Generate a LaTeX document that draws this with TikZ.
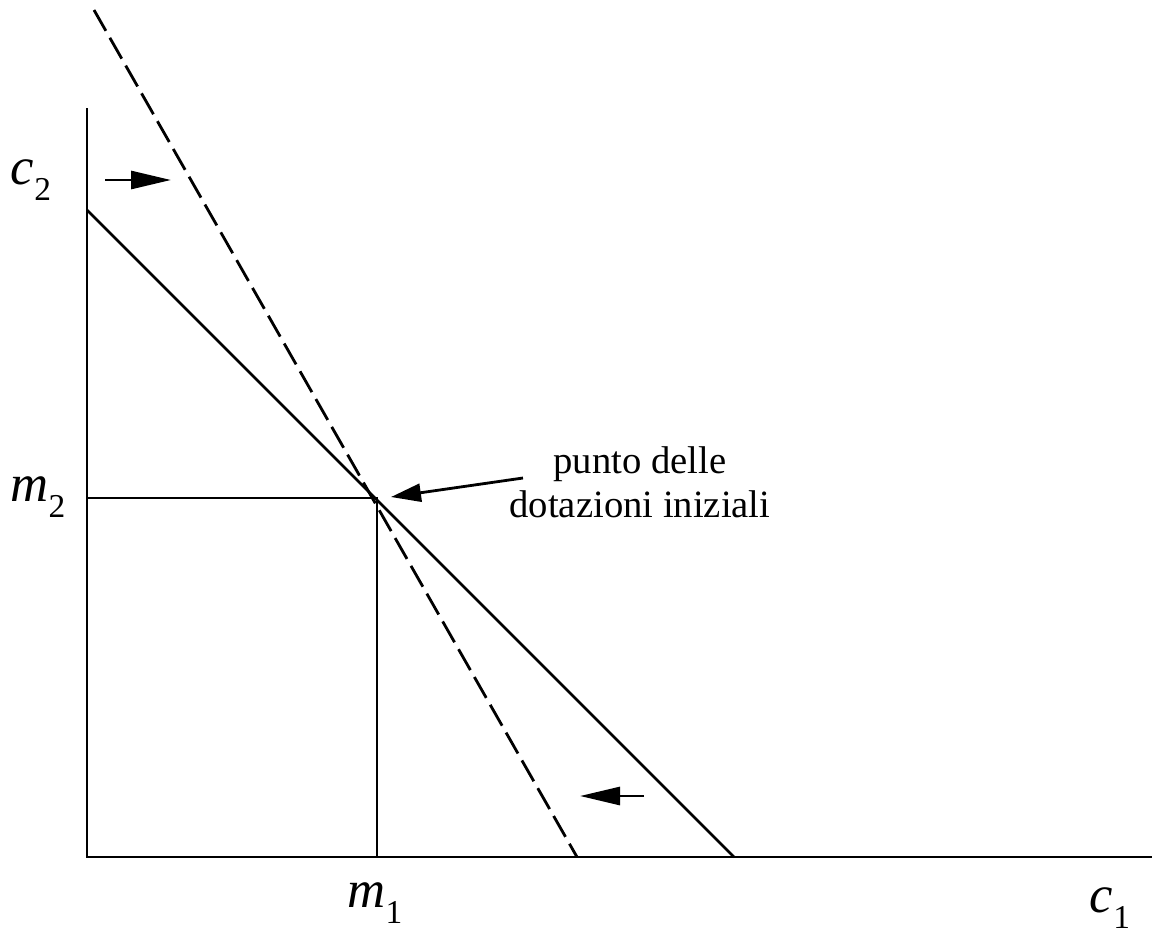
\documentclass[tikz,border=0pt]{standalone}
\usepackage{fontspec}
\setmainfont{Liberation Serif}
\usepackage{tikz}
\usetikzlibrary{arrows.meta}

\newcommand{\axlab}[2]{\textit{#1}\raisebox{-9pt}{\fontsize{19}{21}\selectfont #2}}

\begin{document}
\begin{tikzpicture}[
  x=0.02cm, y=-0.02cm,
  axis/.style={line width=1.6pt},
  budget/.style={line width=1.6pt},
  shifted/.style={line width=1.6pt, dash pattern=on 0.48cm off 0.16cm},
  shiftarr/.style={-{Triangle[length=0.8cm,width=0.36cm]}, line width=1.6pt},
  notearr/.style={-{Triangle[length=0.6cm,width=0.36cm]}, line width=1.6pt},
  lab/.style={inner sep=0pt, font=\fontsize{30}{34}\selectfont},
  note/.style={inner sep=0pt, align=center, font=\fontsize{22}{25}\selectfont}
]
\useasboundingbox (0,0) rectangle (1152,933);

\coordinate (O) at (87,857);
\coordinate (ytop) at (87,108);
\coordinate (xend) at (1152,857);
\coordinate (E) at (377,498);
\coordinate (Ey) at (87,498);
\coordinate (Ex) at (377,857);
\coordinate (budTop) at (87,210);
\coordinate (budEnd) at (734,857);
\coordinate (newTop) at (94,10);
\coordinate (newEnd) at (577,857);

\draw[axis] (ytop) -- (O) -- (xend);
\draw[budget] (Ey) -- (E) -- (Ex);
\draw[budget] (budTop) -- (budEnd);
\draw[shifted] (newTop) -- (newEnd);

\node[lab] (c2) at (31,180) {\axlab{c}{2}};
\node[lab] (m2) at (38,497) {\axlab{m}{2}};
\node[lab] (m1) at (375,903) {\axlab{m}{1}};
\node[lab] (c1) at (1110,908) {\axlab{c}{1}};

\node[note] (dot) at (640,482) {punto delle\\dotazioni iniziali};

\coordinate (upFrom) at (105,180);
\coordinate (upTo) at (171,180);
\draw[shiftarr] (upFrom) -- (upTo);
\coordinate (downFrom) at (644,796);
\coordinate (downTo) at (580,796);
\draw[shiftarr] (downFrom) -- (downTo);

\coordinate (dotFrom) at (523,478);
\coordinate (dotTo) at (391,497);
\draw[notearr] (dotFrom) -- (dotTo);
\end{tikzpicture}
\end{document}
